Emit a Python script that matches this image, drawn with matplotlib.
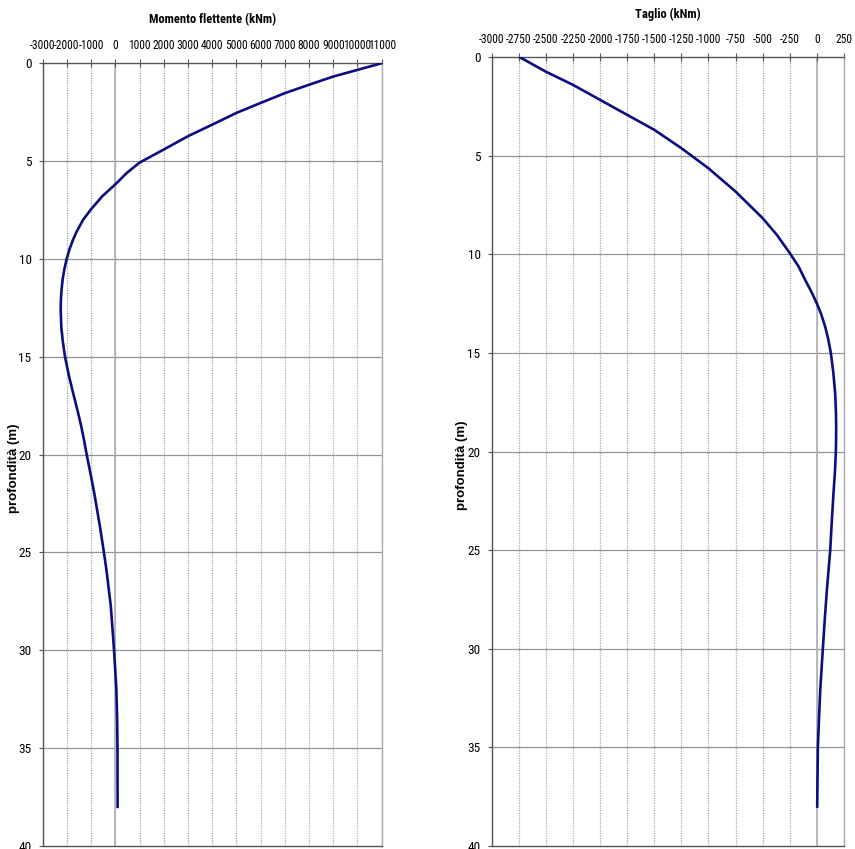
import matplotlib
matplotlib.use("Agg")
import matplotlib.pyplot as plt
from matplotlib import font_manager

# ---- data ----
depth_m = [0, 0.34, 0.68, 1.10, 1.53, 2.03, 2.54, 3.14, 3.73, 4.41, 5.08, 5.6, 6.19, 6.8,
           7.46, 8.0, 8.6, 9.0, 9.5, 10.0, 10.5, 11.0, 11.5, 12.0, 12.6, 13.5, 14.2, 15.0,
           16.0, 16.9, 17.7, 18.5, 19.2, 20.0, 21.0, 22.0, 23.7, 25.0, 26.0, 27.7, 29.0,
           30.0, 32.0, 33.5, 35.0, 38.0]
moment = [11000, 10000, 9000, 8000, 7000, 6000, 5000, 4000, 3000, 2000, 1000, 480, 0, -540,
          -1000, -1330, -1595, -1740, -1890, -2008, -2100, -2170, -2215, -2245, -2256, -2229,
          -2170, -2077, -1910, -1733, -1570, -1416, -1300, -1182, -1020, -865, -631, -470,
          -355, -190, -110, -52, 44, 75, 90, 95]

depth_t = [0, 0.73, 1.40, 2.16, 2.92, 3.68, 4.61, 5.63, 6.81, 8.16, 9.0, 9.93, 10.6, 11.3,
           11.9, 12.49, 13.0, 13.67, 14.3, 15.0, 16.0, 17.06, 18.0, 18.75, 19.5, 20.0, 21.0,
           22.13, 23.5, 25.0, 27.04, 28.5, 30.0, 32.1, 33.5, 35.0, 38.0]
shear = [-2740, -2500, -2250, -2000, -1750, -1500, -1250, -1000, -750, -500, -370, -250,
         -170, -107, -50, 0, 38, 77, 105, 129, 152, 169, 176, 178, 177, 175, 167, 153, 138,
         123, 92, 73, 55, 31, 20, 9, 3]

xticks_m = list(range(-3000, 11001, 1000))
xticks_t = list(range(-3000, 251, 250))
yticks = list(range(0, 41, 5))

available = {f.name for f in font_manager.fontManager.ttflist}
narrow = None
for cand in ['Liberation Sans Narrow', 'Roboto Condensed', 'Open Sans Condensed',
             'DejaVu Sans Condensed']:
    if cand in available:
        narrow = cand
        break
if narrow is not None:
    TICKFONT = [narrow, 'DejaVu Sans']
    xfs = 8.3 if narrow != 'DejaVu Sans Condensed' else 7.2
    tfs = 9.0 if narrow != 'DejaVu Sans Condensed' else 7.8
else:
    TICKFONT = ['Liberation Sans', 'DejaVu Sans']
    xfs = 7.0
    tfs = 7.5
plt.rcParams['font.family'] = ['Liberation Sans', 'DejaVu Sans']

fig = plt.figure(figsize=(8.55, 8.49), dpi=100)
ax1 = fig.add_axes([0.0499, 0.00353, 0.3965, 0.922])
ax2 = fig.add_axes([0.5751, 0.00353, 0.412, 0.929])

line_color = '#0d0d80'


def style(ax, xt, xlim, title, title_y, lab_x):
    ax.set_xlim(*xlim)
    ax.set_ylim(40, 0)
    ax.xaxis.tick_top()
    ax.set_xticks(xt)
    ax.set_xticklabels([str(v) for v in xt], fontsize=xfs, family=TICKFONT)
    ax.set_yticks(yticks)
    ax.set_yticklabels([str(v) for v in yticks], fontsize=9.5, family=TICKFONT)
    ax.tick_params(axis='x', direction='inout', length=6, width=0.8, color='#555555', pad=5)
    ax.tick_params(axis='y', direction='out', length=3, width=0.8, color='#555555', pad=5)
    for x in xt:
        ax.axvline(x, color='#aaaaaa', lw=0.9, ls=(0, (1, 1)), zorder=0)
    for y in yticks[1:-1]:
        ax.axhline(y, color='#555555', lw=0.9, ls=(0, (1, 0.6)), zorder=0)
    ax.axvline(0, color='#b0b0b0', lw=1.2, zorder=0.5)
    for s in ['top', 'left', 'bottom']:
        ax.spines[s].set_color('#555555')
        ax.spines[s].set_linewidth(1.0)
    ax.spines['right'].set_color('#aaaaaa')
    ax.spines['right'].set_linewidth(1.0)
    ax.set_ylabel('profondità (m)', fontsize=9.5, fontweight='bold')
    ax.yaxis.set_label_coords(lab_x, 0.483)
    ax.set_title(title, fontsize=tfs, fontweight='bold', y=title_y, family=TICKFONT)


style(ax1, xticks_m, (-3000, 11000), 'Momento flettente (kNm)', 1.041, -0.068)
style(ax2, xticks_t, (-3000, 250), 'Taglio (kNm)', 1.039, -0.066)

ax1.plot(moment, depth_m, color=line_color, lw=1.9, zorder=3, solid_joinstyle='round')
ax2.plot(shear, depth_t, color=line_color, lw=1.9, zorder=3, solid_joinstyle='round')

fig.savefig('out.png', dpi=100, facecolor='white')
